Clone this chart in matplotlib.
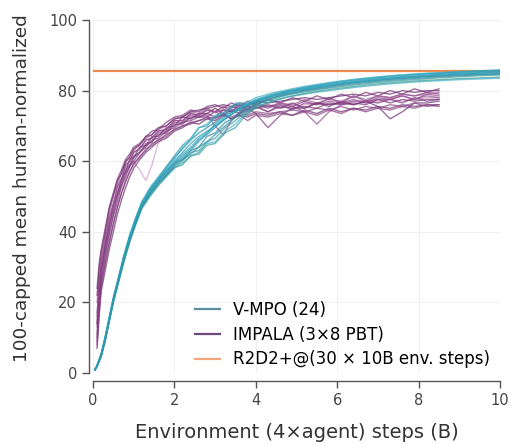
import matplotlib
matplotlib.use("Agg")
import matplotlib.pyplot as plt
from matplotlib.lines import Line2D

# V-MPO runs (x in billions of steps)
vmpo_x = [0.05, 0.1, 0.2, 0.3, 0.4, 0.5, 0.6, 0.75, 0.9, 1.05, 1.2, 1.4, 1.6, 1.8,
          2.0, 2.2, 2.4, 2.6, 2.8, 3.0, 3.25, 3.5, 3.75, 4.0, 4.4, 4.8, 5.2, 5.6,
          6.0, 6.5, 7.0, 7.5, 8.0, 8.5, 9.0, 9.5, 10.0]
vmpo_runs = [
    [1, 2.2, 5.5, 10.5, 16, 21.5, 26, 33, 39, 44, 48.5, 52.5, 55.5, 58.5, 61.5, 64.5, 66.5, 69.5, 70, 72.5,
     73.5, 76, 76, 77.5, 79, 80, 81, 81.8, 82.5, 83.2, 83.8, 84.3, 84.7, 85, 85.3, 85.6, 85.8],
    [1, 2, 5, 10, 15.5, 21, 25.5, 32.5, 38.5, 43.5, 48, 52, 55, 58, 61, 63.5, 66, 68, 69.5, 71,
     73, 74.5, 76, 77, 78.5, 79.8, 80.6, 81.4, 82, 82.7, 83.3, 83.8, 84.2, 84.6, 84.9, 85.2, 85.4],
    [0.8, 1.8, 4.5, 9, 14.5, 20, 24.5, 31, 37, 42, 46.5, 50, 53, 55.5, 58, 59.5, 61.5, 62.5, 65, 65.5,
     68.5, 70.5, 73.5, 75.5, 77, 78.2, 79, 79.7, 80.3, 81, 81.6, 82.1, 82.5, 82.8, 83.1, 83.3, 83.5],
    [1, 2, 5, 9.5, 15, 20.5, 25, 32, 38, 43, 47.5, 51.5, 54.5, 57, 59.5, 61.5, 63.5, 66, 67.5, 69.5,
     72, 74, 75.5, 76.8, 78.3, 79.4, 80.3, 81, 81.7, 82.4, 83, 83.5, 83.9, 84.3, 84.6, 84.9, 85.1],
    [0.9, 1.9, 4.8, 9.3, 14.8, 20.2, 24.8, 31.5, 37.5, 42.5, 47, 50.5, 53.5, 56, 58.5, 60, 62.5, 63, 65.5, 66.5,
     69.5, 71.5, 74, 76, 77.5, 78.8, 79.6, 80.4, 81, 81.7, 82.3, 82.8, 83.2, 83.6, 83.9, 84.2, 84.4],
    [1.1, 2.3, 5.3, 10.2, 15.8, 21.3, 25.8, 32.8, 39, 44, 48.5, 52, 55, 58, 60.5, 64, 66, 69.5, 70.5, 73,
     74, 76.5, 76.5, 78, 79.3, 80.3, 81.2, 81.9, 82.6, 83.3, 83.9, 84.4, 84.8, 85.1, 85.4, 85.6, 85.8],
    [1, 2.1, 5.1, 9.8, 15.2, 20.7, 25.3, 32.2, 38.3, 43.2, 47.8, 51.2, 54.2, 57, 59.5, 60.5, 63, 64, 67, 68,
     71, 72.5, 75.5, 76.5, 78, 79.2, 80.1, 80.9, 81.6, 82.3, 82.9, 83.4, 83.8, 84.1, 84.4, 84.6, 84.8],
    [0.9, 2, 4.9, 9.6, 15, 20.4, 25, 31.8, 37.8, 42.8, 47.3, 51, 54, 56.5, 59, 61, 63, 65.5, 68, 70.5,
     72.5, 74.5, 76, 77.2, 78.6, 79.6, 80.4, 81.1, 81.8, 82.5, 83.1, 83.6, 84, 84.4, 84.7, 85, 85.2],
    [0.8, 1.8, 4.6, 9.2, 14.6, 20, 24.6, 31.2, 37.2, 42.2, 46.8, 50.2, 53.2, 55.8, 58.2, 59, 61.5, 62, 64.5, 65,
     68, 69.5, 73, 75, 77, 78.3, 79.2, 80, 80.6, 81.3, 81.9, 82.4, 82.8, 83.1, 83.4, 83.6, 83.8],
    [1, 2.1, 5.2, 10, 15.5, 21, 25.5, 32.5, 38.5, 43.5, 48, 51.8, 54.8, 57.5, 60, 62.5, 65, 67, 68.5, 70,
     72, 74, 75.5, 77, 78.7, 79.9, 80.8, 81.6, 82.3, 83, 83.6, 84.1, 84.5, 84.9, 85.2, 85.5, 85.7],
    [1, 2, 5, 9.8, 15.3, 20.8, 25.2, 32.2, 38.2, 43.2, 47.7, 51.5, 54.5, 57.2, 59.5, 62, 64, 66.5, 68, 70,
     72, 74, 76, 77.2, 78.5, 79.6, 80.5, 81.2, 81.9, 82.6, 83.2, 83.7, 84.1, 84.5, 84.8, 85.1, 85.3],
    [0.9, 1.9, 4.8, 9.4, 14.9, 20.3, 24.9, 31.6, 37.6, 42.6, 47.1, 50.8, 53.8, 56.2, 58.8, 60.5, 62, 64, 65.5, 67.5,
     70, 72.5, 74.5, 76.2, 77.8, 79, 79.9, 80.6, 81.3, 82, 82.6, 83.1, 83.5, 83.9, 84.2, 84.5, 84.7],
]

# IMPALA runs (3x8 PBT)
impala_x = [0.1, 0.15, 0.2, 0.3, 0.4, 0.5, 0.6, 0.7, 0.8, 0.9, 1.0, 1.15, 1.3, 1.45, 1.6, 1.8,
            2.0, 2.2, 2.4, 2.6, 2.8, 3.0, 3.2, 3.4, 3.6, 3.8, 4.0, 4.3, 4.6, 4.9, 5.2, 5.5,
            5.8, 6.1, 6.4, 6.7, 7.0, 7.3, 7.6, 7.9, 8.2, 8.5]
impala_runs = [
    [24, 31, 35, 41, 47, 51, 55, 57.5, 60.5, 62, 64, 65, 67, 68.5, 69, 71, 72.5, 73, 74.5, 74, 75.5,
     76, 75, 76.5, 75.5, 77, 76, 77.5, 76.5, 78, 77, 78.5, 77.5, 79, 78, 79.5, 78.5, 80, 79, 80.5, 79.5, 80.5],
    [17, 25, 31, 37, 44, 48, 53, 55, 59, 60, 62.5, 63.5, 66, 66.5, 68.5, 69, 71.5, 71.5, 73.5, 73, 74.5,
     74, 75.5, 74, 76, 74.5, 76, 75, 76.5, 75.5, 77, 76, 78, 76.5, 78.5, 77, 78.5, 78, 79, 78.5, 79.5, 79],
    [7, 16, 23, 29, 35, 40, 45, 49, 52.5, 55.5, 58, 60.5, 62.5, 64, 65.5, 66.5, 68.5, 69.5, 71, 70.5, 72,
     71.5, 73, 72, 73, 72.5, 73.5, 73, 74, 73, 74.5, 73.5, 75, 74, 75, 74.5, 75.5, 75, 76, 75.5, 76, 76],
    [13, 22, 29, 35, 42, 46, 51, 54, 57.5, 59, 61.5, 62.5, 65, 65.5, 68, 68.5, 71, 71, 73, 72.5, 73,
     70, 67.5, 71.5, 74, 73.5, 75.5, 74, 76, 74.5, 76.5, 76, 77, 76.5, 77.5, 76.5, 78, 77.5, 78.5, 77.5, 78.5, 78],
    [10, 19, 26, 33, 39, 44.5, 48.5, 53, 55.5, 58.5, 60, 62.5, 64, 66, 66.5, 68.5, 69.5, 71, 71.5, 72.5, 72.5,
     74, 73, 74.5, 73.5, 75, 73.5, 69.5, 73, 75, 75, 76.5, 75.5, 77, 76, 77, 76.5, 77.5, 76.5, 78, 77, 77.5],
    [20, 27, 32, 39, 45, 50, 53.5, 56.5, 59.5, 61.5, 63, 65, 66.5, 67.5, 69, 70, 72, 72.5, 74, 73.5, 75,
     74, 75.5, 75, 76, 75, 76.5, 75.5, 76.5, 76, 77.5, 76.5, 77.5, 77, 78.5, 77.5, 78.5, 78, 79, 78.5, 79, 79.5],
    [14, 23, 29, 36, 41.5, 47.5, 50.5, 55, 57, 60.5, 61, 64, 64.5, 67, 67, 69.5, 70, 72.5, 72, 73.5, 73.5,
     75, 73.5, 75.5, 75, 75.5, 75, 76, 75, 76.5, 75, 76.5, 76, 76.5, 76, 77, 75.5, 72, 74, 76.5, 76.5, 77],
    [8, 17, 24, 31, 37, 42, 47, 51, 54.5, 57, 59.5, 61, 63.5, 64.5, 66, 67, 69, 70, 70.5, 71.5, 72,
     72.5, 73, 72.5, 73.5, 73, 74, 73.5, 74, 74.5, 74, 75, 74.5, 75.5, 74.5, 75.5, 75, 76, 75.5, 76.5, 75.5, 76],
    [16, 24, 31, 38, 43.5, 47.5, 52.5, 54.5, 58.5, 60, 62.5, 63.5, 66, 66.5, 68.5, 69, 71.5, 71.5, 73.5, 73, 74.5,
     74, 74.5, 74.5, 75, 74.5, 76, 75.5, 76, 75.5, 74, 70.5, 74, 76, 77, 77, 77.5, 77.5, 78.5, 77.5, 79, 78.5],
    [11, 20, 27, 34, 40, 45, 50, 53, 56.5, 58.5, 61, 62.5, 64.5, 65.5, 67.5, 68, 70.5, 70.5, 72.5, 72.5, 73.5,
     72.5, 74.5, 74, 74.5, 74, 75.5, 74, 75.5, 75, 75.5, 75, 76.5, 76, 76.5, 76, 77.5, 76.5, 77.5, 77, 77.5, 77.5],
    [9, 18, 25, 31, 37, 42.5, 47, 51, 54, 57, 59, 61.5, 63, 65, 66, 67.5, 69, 70, 71, 71.5, 72.5,
     72, 73.5, 72, 73, 71.5, 73, 72.5, 73.5, 73, 74, 73, 74.5, 73.5, 75, 74, 75, 74.5, 75.5, 75, 76, 75.5],
    [22, 29, 34, 40, 46.5, 50.5, 54.5, 56.5, 60, 61, 63.5, 64.5, 67, 67.5, 69.5, 70, 72, 72.5, 74, 74.5, 75,
     75.5, 76, 75.5, 76.5, 76, 77, 76.5, 77, 77.5, 78, 77.5, 78, 78.5, 79, 78.5, 79.5, 79, 80, 79.5, 80, 80],
]
# one faint run with a dip around 1.3B
impala_faint = [14, 23, 29, 36, 42, 47, 51, 54, 57, 59, 60, 57.5, 54.5, 59, 65, 68, 70, 71, 72, 73, 73.5,
                74, 74.5, 74, 75, 74.5, 75, 75.5, 75, 75.5, 76, 76.5, 76, 76.5, 77, 76.5, 77, 77.5, 77, 77.5, 78, 78]

r2d2_x = [0, 10]
r2d2_y = [85.5, 85.5]

labels = ["V-MPO (24)", "IMPALA (3\u00d78 PBT)", "R2D2+@(30 \u00d7 10B env. steps)"]

teal_colors = ["#2a9db5", "#1f8aa0", "#3bb0c9", "#2f94ad", "#3a9f9a", "#45b3c6",
               "#2a8598", "#33a5bf", "#3d9c96", "#28a0ba", "#3aa8c2", "#2c8fa6"]
purple_colors = ["#7a2f7a", "#8c3d8c", "#6b3370", "#94508f", "#7d3b80", "#a0609a",
                 "#70306f", "#8a4488", "#9a4f93", "#7c3a7d", "#864080", "#6f2f6e"]

fig = plt.figure(figsize=(5.1, 4.44), dpi=100)
ax = fig.add_axes([93 / 510, 1 - 373 / 444, 407 / 510, 353 / 444])

ax.plot(r2d2_x, r2d2_y, color="#ef8a4c", lw=1.6, zorder=1)
ax.plot(impala_x, impala_faint, color="#d9a9c9", lw=1.0, alpha=0.8, zorder=2)
for run, c in zip(impala_runs, purple_colors):
    ax.plot(impala_x, run, color=c, lw=1.0, alpha=0.7, zorder=2)
for run, c in zip(vmpo_runs, teal_colors):
    ax.plot(vmpo_x, run, color=c, lw=1.0, alpha=0.7, zorder=3)

ax.set_xlim(0, 10)
ax.set_ylim(0, 100)
ax.set_xticks([0, 2, 4, 6, 8, 10])
ax.set_yticks([0, 20, 40, 60, 80, 100])
ax.grid(True, color="#f0f0f0", lw=0.8)
ax.set_axisbelow(True)

for s in ["top", "right"]:
    ax.spines[s].set_visible(False)
ax.spines["left"].set_position(("outward", 3))
ax.spines["bottom"].set_position(("outward", 6))
ax.spines["left"].set_bounds(0, 100)
ax.spines["bottom"].set_bounds(0, 10)
for s in ["left", "bottom"]:
    ax.spines[s].set_color("#555555")
    ax.spines[s].set_linewidth(1.0)
ax.tick_params(colors="#555555", labelcolor="#444444", labelsize=10.5, length=5, width=1.0)

ax.set_xlabel("Environment (4\u00d7agent) steps (B)", fontsize=14, color="#333333", labelpad=11)
ax.set_ylabel("100-capped mean human-normalized", fontsize=13.3, color="#333333")
ax.yaxis.set_label_coords(-0.152, 0.524)

handles = [Line2D([], [], color="#5a8fa0", lw=1.6),
           Line2D([], [], color="#6d4a7a", lw=1.6),
           Line2D([], [], color="#f0a678", lw=1.6)]
ax.legend(handles, labels, loc="lower right", bbox_to_anchor=(0.993, -0.006), frameon=False,
          fontsize=12, handlelength=1.5, handletextpad=0.8, borderaxespad=0.0, labelspacing=0.4)

fig.savefig("out.png", dpi=100)
